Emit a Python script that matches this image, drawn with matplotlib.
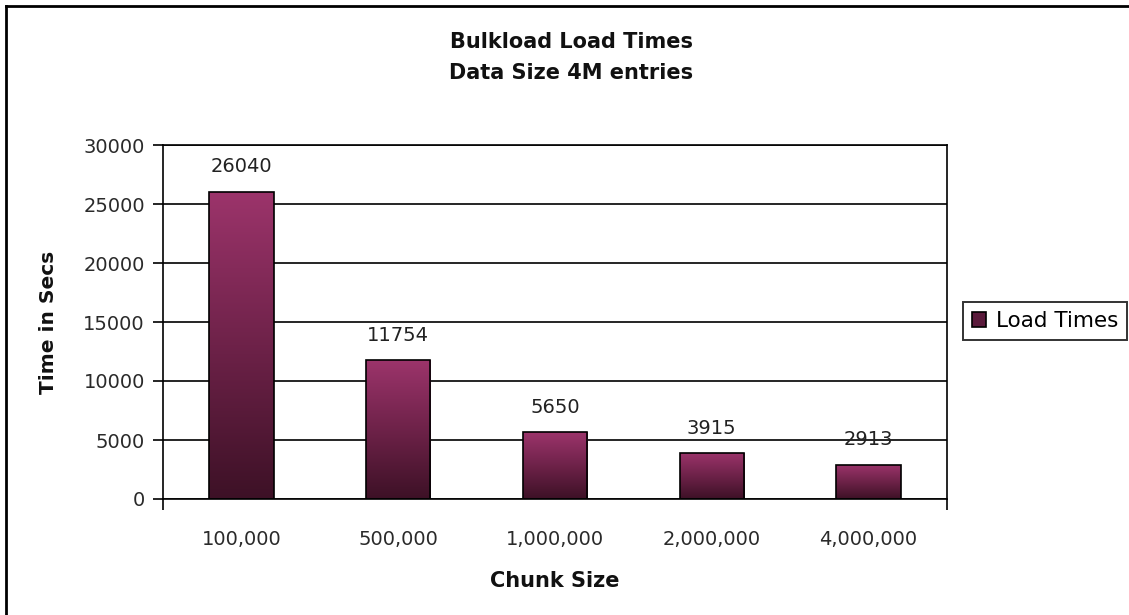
import matplotlib
matplotlib.use("Agg")
import matplotlib.pyplot as plt
import numpy as np
from matplotlib.colors import LinearSegmentedColormap
from matplotlib.patches import Patch
from matplotlib.lines import Line2D

chunk_sizes = ["100,000", "500,000", "1,000,000", "2,000,000", "4,000,000"]
load_times = [26040, 11754, 5650, 3915, 2913]
y_ticks = [0, 5000, 10000, 15000, 20000, 25000, 30000]

W, H = 1129, 615
fig = plt.figure(figsize=(W / 100, H / 100), dpi=100)
fig.patch.set_facecolor("white")

# plot area in pixel terms
left, right, top, bottom = 163, 947, 145, 499
ax = fig.add_axes([left / W, 1 - bottom / H, (right - left) / W, (bottom - top) / H])

# vertical gradient used to fill each bar, light on top, dark at the bottom
grad_cmap = LinearSegmentedColormap.from_list("bar_grad", ["#3d1126", "#6e2249", "#9c346b"])
grad = np.linspace(0, 1, 256).reshape(-1, 1)

x = np.arange(len(chunk_sizes))
bars = ax.bar(x, load_times, width=0.41, facecolor="none", edgecolor="black",
              linewidth=1.2, zorder=3)
for b in bars:
    x0, y0 = b.get_x(), b.get_y()
    im = ax.imshow(grad, extent=[x0, x0 + b.get_width(), y0, y0 + b.get_height()],
                   origin="lower", aspect="auto", cmap=grad_cmap, zorder=2)
    im.set_clip_path(b)

for xi, v in zip(x, load_times):
    ax.annotate(str(v), (xi, v), xytext=(0, 11), textcoords="offset points",
                ha="center", va="bottom", fontsize=14, color="#222222")

ax.set_xlim(-0.5, len(chunk_sizes) - 0.5)
ax.set_ylim(0, 30000)
ax.set_yticks(y_ticks)
ax.set_yticklabels([str(t) for t in y_ticks], fontsize=14, color="#2a2a2a")
ax.set_xticks(x)
ax.set_xticklabels(chunk_sizes, fontsize=14, color="#2a2a2a")
ax.tick_params(axis="x", length=0, pad=22)
ax.tick_params(axis="y", length=7, width=1.2, direction="out", pad=6)
ax.set_xticks([-0.5, len(chunk_sizes) - 0.5], minor=True)
ax.tick_params(axis="x", which="minor", length=8, width=1.2, direction="out")

ax.yaxis.grid(True, color="black", linewidth=1.2)
ax.set_axisbelow(True)
for s in ax.spines.values():
    s.set_color("black")
    s.set_linewidth(1.2)

ax.set_xlabel("Chunk Size", fontsize=15, fontweight="bold", color="#111111", labelpad=16)
ax.set_ylabel("Time in Secs", fontsize=14.5, fontweight="bold", color="#111111", labelpad=18)

fig.text(571 / W, 1 - 42 / H, "Bulkload Load Times", ha="center", va="center",
         fontsize=15, fontweight="bold", color="#111111")
fig.text(571 / W, 1 - 73 / H, "Data Size 4M entries", ha="center", va="center",
         fontsize=15, fontweight="bold", color="#111111")

handle = Patch(facecolor="#5a1a3b", edgecolor="black", linewidth=1.2)
leg = fig.legend([handle], ["Load Times"], loc="center left",
                 bbox_to_anchor=(963 / W, 1 - 321 / H), bbox_transform=fig.transFigure,
                 frameon=True, fancybox=False, edgecolor="black", fontsize=15.5,
                 handlelength=0.65, handleheight=0.65, handletextpad=0.45,
                 borderpad=0.42, borderaxespad=0)
leg.get_frame().set_linewidth(1.4)

# outer chart border, left and top edges
fig.add_artist(Line2D([6 / W, 6 / W], [0, 1 - 6 / H], transform=fig.transFigure,
                      color="black", linewidth=2))
fig.add_artist(Line2D([6 / W, 1], [1 - 6 / H, 1 - 6 / H], transform=fig.transFigure,
                      color="black", linewidth=2))

fig.savefig("out.png", dpi=100)
